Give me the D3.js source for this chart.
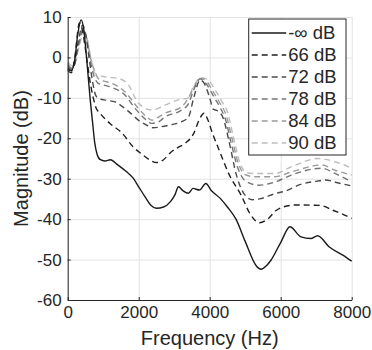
<html>

<head>
    <meta charset="utf-8">
    <script src="https://d3js.org/d3.v7.min.js"></script>
    <style>
        body { margin: 0; background: #fff; }
        text { font-family: "Liberation Sans", Arial, sans-serif; fill: #262626; }
        .gridlines line { stroke: #e3e3e3; }
        .gridlines .domain { stroke: none; }
        .axis .domain, .axis line { stroke: #262626; }
    </style>
</head>

<body>
    <svg id="chartArea" height="350" width="372"></svg>
    <script>
        // readings from the picture: [frequency Hz, magnitude dB]
        const quiet = [[0,-2.8],[100,-3.3],[200,-0.5],[280,5.5],[380,9.3],[450,7],[520,1],[580,-5],[630,-10],[700,-16],[760,-21],[830,-24],[920,-25.3],[1050,-25.6],[1200,-25.3],[1400,-26.5],[1660,-28.3],[1840,-29.8],[2000,-32],[2180,-34.5],[2350,-36.6],[2500,-37.3],[2700,-37],[2900,-35.6],[3020,-34],[3120,-32],[3250,-33],[3400,-33.6],[3530,-32.4],[3710,-32.8],[3890,-31.2],[4050,-33],[4290,-34.8],[4500,-37],[4740,-40],[5000,-45.5],[5300,-51.4],[5450,-52.4],[5600,-51.5],[5730,-50.1],[6010,-45.6],[6260,-41.9],[6570,-44.4],[6850,-44.8],[7040,-44.1],[7370,-46.9],[7750,-48.9],[8000,-50.4]];
        const db66 = [[0,-3.2],[100,-3.8],[200,0],[330,8.5],[420,6.5],[500,2],[580,-3],[650,-7],[720,-10],[800,-12.5],[910,-13.8],[1050,-15.2],[1240,-16.7],[1520,-18.6],[1840,-22.1],[2100,-24],[2320,-25.4],[2500,-26],[2700,-25.3],[2900,-23.5],[3100,-22.3],[3300,-21.3],[3550,-18.8],[3700,-15.5],[3840,-13.8],[3950,-15.5],[4080,-18.8],[4270,-23],[4550,-29],[4880,-34],[5160,-39],[5400,-40.9],[5670,-39.7],[5850,-38],[6060,-37],[6430,-36.5],[7100,-36.6],[7470,-37.8],[7800,-39],[8000,-39.8]];
        const db72 = [[0,-2.5],[100,-3.2],[200,-1.5],[300,4],[420,8],[500,6],[600,0],[700,-6],[780,-9.2],[860,-10.1],[1100,-10.6],[1330,-11],[1610,-12.6],[1800,-14],[1990,-15.5],[2200,-16.6],[2400,-17.4],[2600,-17.2],[2830,-16.8],[3210,-15.9],[3400,-14.8],[3550,-10],[3730,-5.6],[3850,-6.5],[4000,-10],[4100,-12.8],[4220,-13.2],[4380,-15],[4550,-21],[4750,-29],[4950,-33.5],[5200,-35.2],[5400,-35],[5840,-33.7],[6150,-33],[6500,-31.6],[7100,-30.5],[7250,-30.3],[7600,-31],[8000,-31.8]];
        const db78 = [[0,-2],[100,-2.8],[200,-1.5],[300,3],[440,7],[520,5],[620,0],[720,-4],[860,-6.4],[1000,-6.8],[1240,-7.4],[1610,-9.3],[1900,-12.6],[2150,-15],[2370,-16.3],[2550,-16],[2740,-14.7],[3210,-13],[3400,-11.5],[3550,-8],[3730,-5.3],[3900,-6.5],[4100,-9.5],[4300,-12.5],[4450,-15.5],[4600,-21],[4800,-27.5],[5000,-30.5],[5370,-31.6],[5840,-30.8],[6300,-29.1],[7150,-27.4],[7530,-28.7],[8000,-30.8]];
        const db84 = [[0,-1.5],[100,-2.5],[200,-1.5],[300,2.5],[450,6.5],[530,5],[640,0],[740,-3],[860,-5.2],[1000,-5.8],[1240,-6.4],[1610,-8.5],[1990,-12.6],[2200,-14.5],[2370,-15.5],[2550,-14.8],[2740,-13.8],[3210,-12.2],[3400,-10],[3550,-7.5],[3750,-5.2],[3900,-5.8],[4100,-8.5],[4300,-11.5],[4450,-14],[4600,-19],[4800,-26],[5000,-29],[5280,-29.5],[5840,-29.5],[6310,-28.3],[7150,-26.6],[7530,-27.9],[8000,-29.1]];
        const db90 = [[0,-1],[100,-2],[200,-1.5],[300,2],[460,6],[540,5],[650,0],[770,-3.9],[1050,-4.8],[1430,-5.2],[1710,-6.8],[1990,-11.3],[2370,-13],[2740,-11.8],[3120,-10.5],[3400,-10],[3540,-7.2],[3760,-5],[3950,-5.5],[4150,-8],[4350,-11],[4500,-13.5],[4650,-19],[4850,-26],[5000,-28.3],[5180,-28.7],[5840,-28.7],[6310,-27],[7060,-25],[7530,-25.8],[8000,-27.4]];

        const seriesNames = ["-\u221e dB", "66 dB", "72 dB", "78 dB", "84 dB", "90 dB"];
        const seriesValues = [quiet, db66, db72, db78, db84, db90];
        const seriesColors = ["#1a1a1a", "#1f1f1f", "#4a4a4a", "#757575", "#9a9a9a", "#bdbdbd"];
        const xTicks = [0, 2000, 4000, 6000, 8000];
        const yTicks = [-60, -50, -40, -30, -20, -10, 0, 10];

        const svg = d3.select("#chartArea");
        const width = +svg.attr("width");
        const height = +svg.attr("height");
        const margins = { top: 17, right: 20.3, bottom: 50, left: 67.7 };
        const chartWidth = width - margins.left - margins.right;
        const chartHeight = height - margins.top - margins.bottom;

        const series = seriesNames.map((name, i) => ({ name: name, values: seriesValues[i], color: seriesColors[i] }));

        const xScale = d3.scaleLinear().domain([0, 8000]).range([0, chartWidth]);
        const yScale = d3.scaleLinear().domain([-60, 10]).range([chartHeight, 0]);

        // plain hyphen minus, no thousands comma
        const plain = d => String(d);

        //gridlines first so they sit under the curves
        svg.append("g")
            .attr("class", "gridlines")
            .attr("transform", `translate(${margins.left},${margins.top})`)
            .call(d3.axisLeft(yScale).tickValues(yTicks).tickFormat("").tickSize(-chartWidth));
        svg.append("g")
            .attr("class", "gridlines")
            .attr("transform", `translate(${margins.left},${margins.top + chartHeight})`)
            .call(d3.axisBottom(xScale).tickValues(xTicks).tickFormat("").tickSize(-chartHeight));

        let chartArea = svg.append("g")
            .attr("transform", `translate(${margins.left},${margins.top})`);

        const lineGenerator = d3.line()
            .x(d => xScale(d[0]))
            .y(d => yScale(d[1]))
            .curve(d3.curveMonotoneX);

        // draw lightest first, black on top
        chartArea.selectAll(".lines")
            .data(series.slice().reverse())
            .join("path")
            .attr("class", "lines")
            .attr("d", d => lineGenerator(d.values))
            .attr("fill", "none")
            .attr("stroke", d => d.color)
            .attr("stroke-width", 1.4)
            .attr("stroke-dasharray", d => d.name.startsWith("-") ? null : "6,4");

        //axes (ticks point inward like matlab)
        let leftAxis = d3.axisLeft(yScale).tickValues(yTicks).tickFormat(plain)
            .tickSizeInner(-3).tickSizeOuter(0).tickPadding(6);
        let yAxisG = svg.append("g")
            .attr("class", "axis")
            .attr("transform", `translate(${margins.left},${margins.top})`)
            .call(leftAxis);
        yAxisG.selectAll("text").style("font-size", "17px");

        let bottomAxis = d3.axisBottom(xScale).tickValues(xTicks).tickFormat(plain)
            .tickSizeInner(-3).tickSizeOuter(0).tickPadding(6);
        let xAxisG = svg.append("g")
            .attr("class", "axis")
            .attr("transform", `translate(${margins.left},${margins.top + chartHeight})`)
            .call(bottomAxis);
        xAxisG.selectAll("text").style("font-size", "17px");

        svg.append("text")
            .attr("x", margins.left + chartWidth / 2)
            .attr("y", 345)
            .attr("text-anchor", "middle")
            .style("font-size", "20px")
            .text("Frequency (Hz)");

        svg.append("text")
            .attr("transform", `translate(28,${margins.top + chartHeight / 2}) rotate(-90)`)
            .attr("text-anchor", "middle")
            .style("font-size", "20px")
            .text("Magnitude (dB)");

        //legend
        const legend = svg.append("g").attr("transform", "translate(248.7,19)");
        legend.append("rect")
            .attr("width", 97.3)
            .attr("height", 136)
            .attr("fill", "#fff")
            .attr("stroke", "#262626")
            .attr("stroke-width", 1);
        const rows = legend.selectAll(".row")
            .data(series)
            .join("g")
            .attr("class", "row")
            .attr("transform", (d, i) => `translate(0,${14 + i * 22})`);
        rows.append("line")
            .attr("x1", 3)
            .attr("x2", 37.5)
            .attr("stroke", d => d.color)
            .attr("stroke-width", 1.4)
            .attr("stroke-dasharray", d => d.name.startsWith("-") ? null : "6,4");
        rows.append("text")
            .attr("x", 39.5)
            .attr("dy", "0.35em")
            .style("font-size", "18.5px")
            .text(d => d.name);
    </script>
</body>

</html>
